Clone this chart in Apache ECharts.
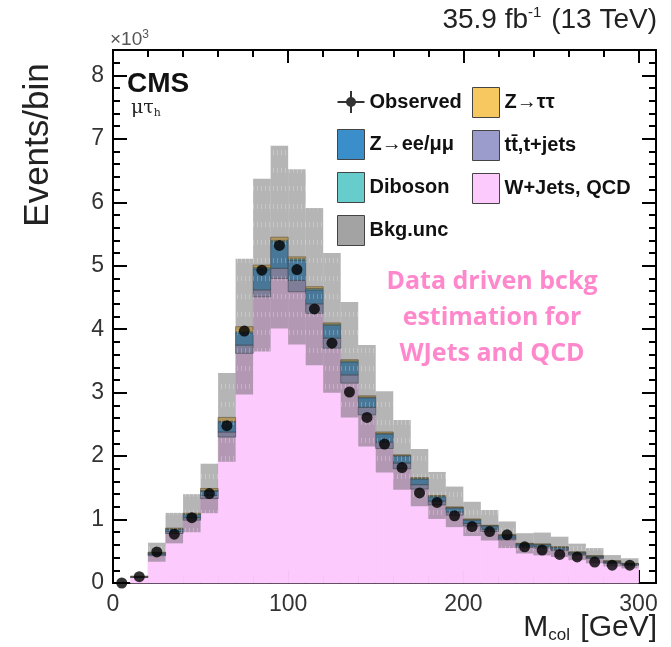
<!DOCTYPE html>
<html>
<head>
<meta charset="utf-8">
<script src="https://cdn.jsdelivr.net/npm/echarts@6.0.0/dist/echarts.min.js"></script>
<style>
html, body { margin: 0; padding: 0; background: #fff; }
#chart { width: 671px; height: 647px; }
</style>
</head>
<body>
<div id="chart"></div>
<script>
// bin edges in GeV (10 GeV bins)
var binEdges = [0, 10, 20, 30, 40, 50, 60, 70, 80, 90, 100, 110, 120, 130, 140, 150,
    160, 170, 180, 190, 200, 210, 220, 230, 240, 250, 260, 270, 280, 290, 300];

// events per bin, in units of 10^3
var observed = [0, 0.10, 0.49, 0.77, 1.03, 1.41, 2.48, 3.97, 4.93, 5.32, 4.94, 4.32, 3.78, 3.01, 2.61,
    2.19, 1.82, 1.42, 1.27, 1.06, 0.89, 0.81, 0.76, 0.57, 0.52, 0.45, 0.41, 0.33, 0.28, 0.28];
var wjetsQcd = [0, 0.09, 0.43, 0.78, 0.99, 1.33, 2.30, 3.62, 4.51, 4.80, 4.59, 4.25, 3.70, 3.15, 2.65,
    2.12, 1.80, 1.48, 1.23, 1.07, 0.90, 0.81, 0.68, 0.56, 0.55, 0.51, 0.44, 0.385, 0.31, 0.275];
var ttbar = [0, 0.003, 0.02, 0.03, 0.04, 0.05, 0.08, 0.13, 0.11, 0.16, 0.18, 0.15, 0.16, 0.13, 0.12,
    0.10, 0.09, 0.07, 0.06, 0.05, 0.04, 0.04, 0.03, 0.025, 0.025, 0.025, 0.02, 0.02, 0.015, 0.015];
var zll = [0, 0.005, 0.025, 0.04, 0.05, 0.07, 0.16, 0.19, 0.33, 0.42, 0.32, 0.22, 0.20, 0.20, 0.15,
    0.13, 0.11, 0.09, 0.07, 0.06, 0.05, 0.045, 0.035, 0.03, 0.03, 0.025, 0.02, 0.015, 0.015, 0.012];
var diboson = [0, 0, 0.003, 0.005, 0.005, 0.01, 0.01, 0.02, 0.02, 0.02, 0.02, 0.02, 0.02, 0.02, 0.01,
    0.01, 0.01, 0.01, 0.01, 0.01, 0.01, 0.01, 0.01, 0.005, 0.005, 0.005, 0.005, 0.005, 0.005, 0.004];
var ztautau = [0, 0.002, 0.007, 0.01, 0.015, 0.03, 0.06, 0.08, 0.04, 0.05, 0.03, 0.03, 0.02, 0.02, 0.02,
    0.02, 0.01, 0.01, 0.01, 0.01, 0.01, 0.005, 0.005, 0.005, 0.005, 0.005, 0.005, 0.005, 0.005, 0.004];
// half width of the background uncertainty band
var bkgUnc = [0, 0.02, 0.15, 0.24, 0.30, 0.39, 0.70, 1.07, 1.36, 1.44, 1.38, 1.24, 1.10, 0.91, 0.80,
    0.64, 0.55, 0.45, 0.37, 0.32, 0.27, 0.24, 0.21, 0.16, 0.18, 0.16, 0.13, 0.12, 0.09, 0.08];

var xTicks = [0, 100, 200, 300];
var yTicks = [0, 1, 2, 3, 4, 5, 6, 7, 8];

var FONT = 'Liberation Sans';

var chart = echarts.init(document.getElementById('chart'));

// stack order from bottom to top
var components = [
    { name: 'W+Jets, QCD', vals: wjetsQcd, color: '#fccafc', stroke: '#fccafc' },
    { name: 't\u0074\u0304,t+jets', vals: ttbar, color: '#9c9ccc', stroke: 'rgba(40,40,60,0.7)' },
    { name: 'Z\u2192ee/\u03bc\u03bc', vals: zll, color: '#3a8fca', stroke: 'rgba(20,40,60,0.7)' },
    { name: 'Diboson', vals: diboson, color: '#66cccc', stroke: 'rgba(20,60,60,0.6)' },
    { name: 'Z\u2192\u03c4\u03c4', vals: ztautau, color: '#f8c860', stroke: 'rgba(80,60,20,0.7)' }
];

// hatched grey pattern for the uncertainty band
var pat = document.createElement('canvas');
pat.width = 4; pat.height = 18;
var pctx = pat.getContext('2d');
pctx.fillStyle = 'rgba(90,90,90,0.45)';
pctx.fillRect(0, 0, 4, 18);
pctx.fillStyle = 'rgba(255,255,255,0.25)';
pctx.fillRect(1, 6, 1, 5);

function rectItem(fill, stroke) {
    return function (params, api) {
        var a = api.coord([api.value(0), api.value(3)]);
        var b = api.coord([api.value(1), api.value(2)]);
        return {
            type: 'rect',
            shape: { x: a[0], y: a[1], width: b[0] - a[0], height: b[1] - a[1] },
            style: { fill: fill, stroke: stroke || null, lineWidth: stroke ? 0.8 : 0 }
        };
    };
}

var series = [];
var base = binEdges.slice(1).map(function () { return 0; });
components.forEach(function (c) {
    var data = [];
    c.vals.forEach(function (v, i) {
        if (v > 0) data.push([binEdges[i], binEdges[i + 1], base[i], base[i] + v]);
        base[i] += v;
    });
    series.push({
        name: c.name,
        type: 'custom',
        renderItem: rectItem(c.color, c.stroke),
        itemStyle: { color: c.color },
        encode: { x: [0, 1], y: [2, 3] },
        data: data,
        silent: true
    });
});

var uncData = [];
bkgUnc.forEach(function (u, i) {
    if (u > 0) uncData.push([binEdges[i], binEdges[i + 1], base[i] - u, base[i] + u]);
});
series.push({
    name: 'Bkg.unc',
    type: 'custom',
    renderItem: rectItem({ image: pat, repeat: 'repeat' }, null),
    itemStyle: { color: '#a3a3a3' },
    encode: { x: [0, 1], y: [2, 3] },
    data: uncData,
    silent: true
});

series.push({
    name: 'Observed',
    type: 'scatter',
    symbol: 'circle',
    symbolSize: 11,
    itemStyle: { color: '#000' },
    data: observed.map(function (v, i) { return [(binEdges[i] + binEdges[i + 1]) / 2, v]; }),
    z: 5,
    silent: true
});

function xAxisDef(grid, pos, interval, tickLen, labels) {
    return {
        type: 'value', gridIndex: grid, position: pos, min: 0, max: 310, interval: interval,
        axisLine: { onZero: false, lineStyle: { color: '#000', width: 2 } },
        axisTick: { inside: true, length: tickLen, lineStyle: { color: '#000', width: 2 } },
        axisLabel: {
            show: labels, margin: 10, fontFamily: FONT, fontSize: 23, color: '#333',
            formatter: function (v) { return xTicks.indexOf(v) >= 0 ? String(v) : ''; }
        },
        splitLine: { show: false }
    };
}
function yAxisDef(grid, pos, interval, tickLen, labels) {
    return {
        type: 'value', gridIndex: grid, position: pos, min: 0, max: 8.4, interval: interval,
        axisLine: { onZero: false, lineStyle: { color: '#000', width: 2 } },
        axisTick: { inside: true, length: tickLen, lineStyle: { color: '#000', width: 2 } },
        axisLabel: {
            show: labels, margin: 9, fontFamily: FONT, fontSize: 23, color: '#333',
            formatter: function (v) { return yTicks.indexOf(v) >= 0 ? String(v) : ''; }
        },
        splitLine: { show: false }
    };
}

var gridBox = { left: 113, right: 15, top: 50, bottom: 64 };

var legendText = { fontFamily: FONT, fontSize: 20, fontWeight: 'bold', color: '#111' };
var obsIcon = 'path://M0,0h0.01v0.01h-0.01z M26.99,29.99h0.01v0.01h-0.01z M0,14h27v2h-27z M12.5,4h2v22h-2z M18.5,15a5,5 0 1,1 -10,0a5,5 0 1,1 10,0z';

var option = {
    animation: false,
    grid: [Object.assign({}, gridBox), Object.assign({}, gridBox)],
    xAxis: [
        xAxisDef(0, 'bottom', 100, 13, true),
        xAxisDef(0, 'top', 100, 13, false),
        xAxisDef(1, 'bottom', 20, 7, false),
        xAxisDef(1, 'top', 20, 7, false)
    ],
    yAxis: [
        yAxisDef(0, 'left', 1, 14, true),
        yAxisDef(0, 'right', 1, 14, false),
        yAxisDef(1, 'left', 0.2, 7, false),
        yAxisDef(1, 'right', 0.2, 7, false)
    ],
    legend: [{
        left: 332, top: 82, orient: 'vertical', itemWidth: 27, itemHeight: 30, itemGap: 12,
        textStyle: legendText, selectedMode: false,
        itemStyle: { borderColor: '#444', borderWidth: 1 },
        data: [
            { name: 'Observed', icon: obsIcon, itemStyle: { borderWidth: 0 } },
            { name: 'Z\u2192ee/\u03bc\u03bc', icon: 'rect' },
            { name: 'Diboson', icon: 'rect' },
            { name: 'Bkg.unc', icon: 'rect' }
        ]
    }, {
        left: 467, top: 82, orient: 'vertical', itemWidth: 27, itemHeight: 30, itemGap: 12,
        textStyle: legendText, selectedMode: false,
        itemStyle: { borderColor: '#444', borderWidth: 1 },
        data: [
            { name: 'Z\u2192\u03c4\u03c4', icon: 'rect' },
            { name: 't\u0074\u0304,t+jets', icon: 'rect' },
            { name: 'W+Jets, QCD', icon: 'rect' }
        ]
    }],
    graphic: [
        {
            type: 'text', x: 657, y: 20,
            style: {
                text: '35.9 fb{sup|-1} (13 TeV)', textAlign: 'right', textVerticalAlign: 'middle',
                font: '28px ' + FONT, fill: '#222',
                rich: { sup: { fontSize: 15, fontFamily: FONT, padding: [0, 2, 14, 0], fill: '#222' } }
            }
        },
        {
            type: 'text', x: 110, y: 40,
            style: {
                text: '\u00d710{sup|3}', textAlign: 'left', textVerticalAlign: 'middle',
                font: '19px ' + FONT, fill: '#555',
                rich: { sup: { fontSize: 12, fontFamily: FONT, padding: [0, 0, 10, 0], fill: '#555' } }
            }
        },
        {
            type: 'text', x: 38, y: 145, rotation: Math.PI / 2,
            style: {
                text: 'Events/bin', textAlign: 'center', textVerticalAlign: 'middle',
                font: '35px ' + FONT, fill: '#222'
            }
        },
        {
            type: 'text', x: 657, y: 628,
            style: {
                text: 'M{sub|col} [GeV]', textAlign: 'right', textVerticalAlign: 'middle',
                font: '30px ' + FONT, fill: '#222',
                rich: { sub: { fontSize: 17, fontFamily: FONT, padding: [15, 2, 0, 0], fill: '#222' } }
            }
        },
        {
            type: 'text', x: 127, y: 84,
            style: {
                text: 'CMS', textAlign: 'left', textVerticalAlign: 'middle',
                font: 'bold 28px ' + FONT, fill: '#111'
            }
        },
        {
            type: 'text', x: 131, y: 108,
            style: {
                text: '\u03bc\u03c4{sub|h}', textAlign: 'left', textVerticalAlign: 'middle',
                font: '19px "DejaVu Serif"', fill: '#222',
                rich: { sub: { fontSize: 11, fontFamily: 'DejaVu Serif', padding: [10, 0, 0, 0], fill: '#222' } }
            }
        },
        {
            type: 'text', x: 492, y: 318,
            style: {
                text: 'Data driven bckg\nestimation for\nWJets and QCD', textAlign: 'center', textVerticalAlign: 'middle',
                font: 'bold 25px "Open Sans"', fill: '#ff88cc', lineHeight: 36
            }
        }
    ],
    series: series
};

chart.setOption(option);
</script>
</body>
</html>
